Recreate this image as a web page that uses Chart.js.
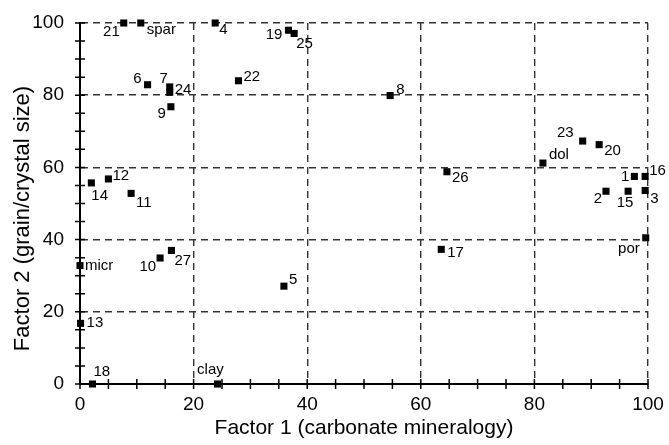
<!DOCTYPE html>
<html>
<head>
<meta charset="utf-8">
<script src="https://cdn.jsdelivr.net/npm/chart.js@4"></script>
<style>
  html, body { margin: 0; padding: 0; background: #fff; }
  #wrap { width: 669px; height: 445px; }
</style>
</head>
<body>
<div id="wrap"><canvas id="myChart" width="669" height="445"></canvas></div>
<script>
// sample names and their factor scores
var names = ["21", "spar", "4", "19", "25", "6", "7", "24", "9", "22", "8",
             "23", "20", "dol", "1", "16", "2", "15", "3", "por",
             "14", "12", "11", "26", "17", "micr", "10", "27", "5", "13", "18", "clay"];
var factor1 = [7.7, 10.7, 23.8, 36.7, 37.7, 11.9, 15.8, 15.8, 16.0, 27.9, 54.6,
               88.5, 91.4, 81.5, 97.6, 99.5, 92.6, 96.5, 99.5, 99.6,
               2.0, 5.0, 9.0, 64.6, 63.6, 0.0, 14.1, 16.1, 35.9, 0.1, 2.2, 24.2];
var factor2 = [100, 100, 100, 98.0, 97.1, 82.9, 82.3, 80.8, 76.8, 84.0, 79.9,
               67.3, 66.3, 61.2, 57.5, 57.5, 53.4, 53.4, 53.6, 40.5,
               55.7, 56.8, 52.8, 58.8, 37.3, 32.8, 34.9, 37.0, 27.1, 16.8, 0, 0];
var xTicks = [0, 20, 40, 60, 80, 100];
var yTicks = [0, 20, 40, 60, 80, 100];
var xTitle = 'Factor 1 (carbonate mineralogy)';
var yTitle = 'Factor 2 (grain/crystal size)';

// where each label sits relative to its marker: [align, dx, dy]
var labelPos = {
  "21": ["right", -4, 9], "spar": ["left", 6, 7], "4": ["left", 4, 7],
  "19": ["right", -6, 5], "25": ["left", 2, 10], "6": ["right", -6, -6],
  "7": ["right", -2, -8], "24": ["left", 5, -2], "9": ["right", -5, 7],
  "22": ["left", 5, -4], "8": ["left", 6, -6], "23": ["right", -9, -8],
  "20": ["left", 5, 6], "dol": ["left", 6, -8], "1": ["right", -5, 0],
  "16": ["left", 4, -6], "2": ["right", -4, 8], "15": ["center", -3, 12],
  "3": ["left", 5, 8], "por": ["right", -6, 11], "14": ["left", 0, 13],
  "12": ["left", 4, -3], "11": ["left", 5, 9], "26": ["left", 5, 6],
  "17": ["left", 6, 4], "micr": ["left", 5, 0], "10": ["right", -4, 9],
  "27": ["left", 3, 10], "5": ["left", 5, -6], "13": ["left", 6, 0],
  "18": ["left", 1, -12], "clay": ["center", -7, -14]
};

var FONT = '"Liberation Sans", Arial, Helvetica, sans-serif';

var points = factor1.map(function (v, i) { return {x: v, y: factor2[i]}; });

var pointLabels = {
  id: 'pointLabels',
  afterDatasetsDraw: function (chart) {
    var c = chart.ctx, xs = chart.scales.x, ys = chart.scales.y;
    c.save();
    c.fillStyle = '#000';
    c.font = '15px ' + FONT;
    c.textBaseline = 'middle';
    names.forEach(function (n, i) {
      var p = labelPos[n] || ["left", 5, 0];
      c.textAlign = p[0];
      c.fillText(n, xs.getPixelForValue(factor1[i]) + p[1], ys.getPixelForValue(factor2[i]) + p[2]);
    });
    c.restore();
  }
};

// axis ticks every 5 units, crossing the axis line; y title sits a bit below centre
var axisTicks = {
  id: 'axisTicks',
  afterDraw: function (chart) {
    var c = chart.ctx, xs = chart.scales.x, ys = chart.scales.y, a = chart.chartArea;
    c.save();
    c.strokeStyle = '#000';
    c.lineWidth = 1.5;
    c.beginPath();
    for (var v = 0; v <= 100; v += 5) {
      var px = xs.getPixelForValue(v);
      c.moveTo(px, a.bottom - 5); c.lineTo(px, a.bottom + 5);
      var py = ys.getPixelForValue(v);
      c.moveTo(a.left - 5, py); c.lineTo(a.left + 5, py);
    }
    c.stroke();
    c.translate(23, (a.top + a.bottom) / 2 + 15);
    c.rotate(-Math.PI / 2);
    c.fillStyle = '#000';
    c.font = '22px ' + FONT;
    c.textAlign = 'center';
    c.textBaseline = 'middle';
    c.fillText(yTitle, 0, 0);
    c.restore();
  }
};

function gridColor(ctx) {
  return (ctx.tick && ctx.tick.value > 0) ? '#333' : 'rgba(0,0,0,0)';
}

var ctx = document.getElementById('myChart').getContext('2d');
var chart = new Chart(ctx, {
  type: 'scatter',
  data: {
    datasets: [{
      data: points,
      pointStyle: 'rect',
      pointRadius: 5,
      pointHoverRadius: 5,
      backgroundColor: '#000',
      borderColor: '#000',
      borderWidth: 0,
      clip: false
    }]
  },
  options: {
    responsive: false,
    animation: false,
    events: [],
    layout: { padding: { top: 23, right: 21, left: 0, bottom: 0 } },
    plugins: { legend: { display: false }, tooltip: { enabled: false } },
    scales: {
      x: {
        type: 'linear', min: 0, max: 100,
        afterBuildTicks: function (s) { s.ticks = xTicks.map(function (v) { return {value: v}; }); },
        afterFit: function (s) { s.height = 61; s.paddingLeft = 0; s.paddingRight = 0; },
        ticks: { color: '#000', padding: 9, font: { family: FONT, size: 19 } },
        grid: { color: gridColor, lineWidth: 1.4, drawTicks: false },
        border: { display: true, color: '#000', width: 2, dash: [7, 5] },
        title: { display: true, text: xTitle, color: '#000',
                 font: { family: FONT, size: 21 }, padding: { top: 2, bottom: 4 } }
      },
      y: {
        type: 'linear', min: 0, max: 100,
        afterBuildTicks: function (s) { s.ticks = yTicks.map(function (v) { return {value: v}; }); },
        afterFit: function (s) { s.width = 80; s.paddingTop = 0; s.paddingBottom = 0; },
        ticks: { color: '#000', padding: 16, font: { family: FONT, size: 19 } },
        grid: { color: gridColor, lineWidth: 1.4, drawTicks: false },
        border: { display: true, color: '#000', width: 2, dash: [7, 5] },
        title: { display: false }
      }
    }
  },
  plugins: [pointLabels, axisTicks]
});
</script>
</body>
</html>
